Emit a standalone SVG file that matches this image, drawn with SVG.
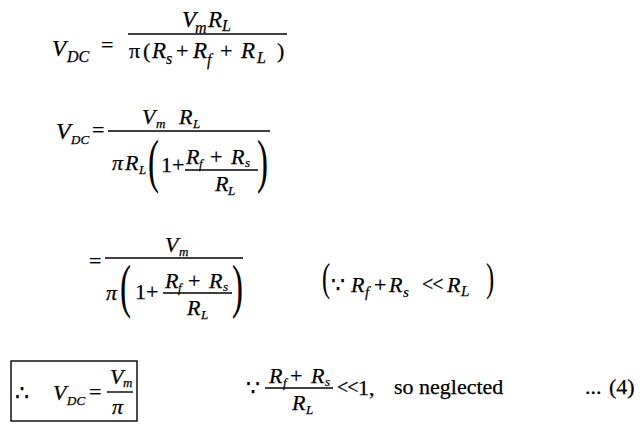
<svg xmlns="http://www.w3.org/2000/svg" width="641" height="435" viewBox="0 0 641 435">
<style>
text { font-family: "Liberation Serif", "Times New Roman", "DejaVu Serif", serif; fill: #000; font-size: 22px; stroke: #000; stroke-width: 0.25px; }
.i { font-style: italic; }
.s { font-size: 15px; font-style: italic; }
.ss { font-size: 13px; font-style: italic; }
.bar { stroke: #000; stroke-width: 1.4; }
.big { font-size: 60px; stroke-width: 0.1px; }
.mid { font-size: 41px; stroke-width: 0.1px; }
.ll { font-size: 20px; letter-spacing: -1px; }
</style>
<rect width="641" height="435" fill="#fff"/>

<g id="eq1">
  <text class="i" x="52" y="56" style="font-size:23px">V</text>
  <text class="s" x="67" y="62" style="font-size:16px">DC</text>
  <text x="101" y="52">=</text>
  <text class="i" x="182" y="27" style="font-size:23px">V</text>
  <text class="s" x="195" y="33" style="font-size:16px">m</text>
  <text class="i" x="208" y="27" style="font-size:23px">R</text>
  <text class="s" x="222" y="31" style="font-size:16px">L</text>
  <line class="bar" x1="128" y1="34" x2="287" y2="34"/>
  <text x="129" y="58">π</text>
  <text x="143" y="58">(</text>
  <text class="i" x="152" y="58" style="font-size:23px">R</text>
  <text class="s" x="166" y="64" style="font-size:16px">s</text>
  <text x="176" y="58">+</text>
  <text class="i" x="193" y="58" style="font-size:23px">R</text>
  <text class="s" x="207" y="65" style="font-size:16px">f</text>
  <text x="220" y="58">+</text>
  <text class="i" x="241" y="58" style="font-size:23px">R</text>
  <text class="s" x="257" y="63" style="font-size:16px">L</text>
  <text x="277" y="58">)</text>
</g>

<g id="eq2">
  <text class="i" x="56" y="139" style="font-size:24px">V</text>
  <text class="ss" x="71" y="144">DC</text>
  <text x="92" y="137">=</text>
  <line class="bar" x1="108" y1="131" x2="270" y2="131"/>
  <text class="i" x="142" y="124">V</text>
  <text class="ss" x="156" y="128">m</text>
  <text class="i" x="179" y="124">R</text>
  <text class="ss" x="193" y="128">L</text>
  <text class="i" x="112" y="170">π</text>
  <text class="i" x="125" y="170">R</text>
  <text class="ss" x="139" y="174">L</text>
  <text class="big" transform="translate(148,181) scale(0.55,1)">(</text>
  <text x="161" y="172">1</text>
  <text x="172" y="172">+</text>
  <line class="bar" x1="185" y1="170" x2="258" y2="170"/>
  <text class="i" x="186" y="164">R</text>
  <text class="ss" x="199" y="168">f</text>
  <text x="210" y="164">+</text>
  <text class="i" x="231" y="164">R</text>
  <text class="ss" x="245" y="167">s</text>
  <text class="i" x="215" y="191">R</text>
  <text class="ss" x="228" y="195">L</text>
  <text class="big" transform="translate(257,181) scale(0.55,1)">)</text>
</g>

<g id="eq3">
  <text x="89" y="268">=</text>
  <line class="bar" x1="105" y1="258" x2="243" y2="258"/>
  <text class="i" x="165" y="252">V</text>
  <text class="ss" x="179" y="256">m</text>
  <text class="i" x="106" y="300">π</text>
  <text class="big" transform="translate(120,306) scale(0.55,1)">(</text>
  <text x="135" y="299">1</text>
  <text x="146" y="299">+</text>
  <line class="bar" x1="163" y1="293" x2="232" y2="293"/>
  <text class="i" x="165" y="288">R</text>
  <text class="ss" x="178" y="292">f</text>
  <text x="188" y="288">+</text>
  <text class="i" x="209" y="288">R</text>
  <text class="ss" x="223" y="291">s</text>
  <text class="i" x="187" y="315">R</text>
  <text class="ss" x="201" y="319">L</text>
  <text class="big" transform="translate(232,306) scale(0.55,1)">)</text>

  <text class="mid" transform="translate(322,291) scale(0.6,1)">(</text>
  <text x="331" y="292">∵</text>
  <text class="i" x="351" y="292">R</text>
  <text class="s" x="365" y="297">f</text>
  <text x="374" y="292">+</text>
  <text class="i" x="389" y="292">R</text>
  <text class="s" x="403" y="297">s</text>
  <text class="ll" x="422" y="291">&lt;&lt;</text>
  <text class="i" x="447" y="292">R</text>
  <text class="s" x="461" y="296">L</text>
  <text class="mid" transform="translate(486,291) scale(0.6,1)">)</text>
</g>

<g id="eq4">
  <rect x="11" y="361" width="126" height="60" fill="none" stroke="#000" stroke-width="1.4"/>
  <text x="15" y="400">∴</text>
  <text class="i" x="53" y="400">V</text>
  <text class="ss" x="67" y="405">DC</text>
  <text x="89" y="399">=</text>
  <line class="bar" x1="107" y1="392" x2="133" y2="392"/>
  <text class="i" x="110" y="384">V</text>
  <text class="ss" x="123" y="387">m</text>
  <text class="i" x="112" y="414">π</text>

  <text x="246" y="395">∵</text>
  <line class="bar" x1="265" y1="388" x2="333" y2="388"/>
  <text class="i" x="269" y="383">R</text>
  <text class="ss" x="283" y="387">f</text>
  <text x="290" y="383">+</text>
  <text class="i" x="311" y="383">R</text>
  <text class="ss" x="325" y="386">s</text>
  <text class="i" x="292" y="410">R</text>
  <text class="ss" x="306" y="414">L</text>
  <text class="ll" x="337" y="394">&lt;&lt;</text>
  <text x="358" y="395">1,</text>
  <text x="394" y="394">so neglected</text>
  <text x="585" y="394">...</text>
  <text x="609" y="394">(4)</text>
</g>
</svg>
